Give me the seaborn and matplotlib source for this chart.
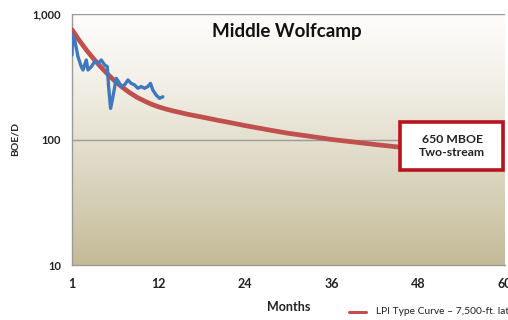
import numpy as np
import pandas as pd
import matplotlib
matplotlib.use("Agg")
import matplotlib.pyplot as plt
from matplotlib.patches import Rectangle
from matplotlib.lines import Line2D
from matplotlib.transforms import ScaledTranslation
import seaborn as sns

# ---- data ----
actual_month = [0.0, 0.09, 0.37, 0.83, 1.29, 1.52, 1.98, 2.21, 2.67, 3.13, 3.6, 4.06,
                4.52, 4.89, 5.07, 5.35, 5.67, 6.13, 6.45, 6.82, 7.28, 7.75, 8.2, 8.67,
                9.13, 9.59, 10.05, 10.5, 10.88, 11.2, 11.66, 12.13, 12.59]
actual_boed = [471, 681, 621, 457, 380, 358, 430, 358, 380, 417, 404, 430,
               393, 380, 264, 177, 219, 307, 289, 264, 272, 298, 280, 272,
               256, 264, 256, 264, 280, 248, 226, 213, 219]

type_month = [0, 1, 2, 3, 4, 5, 6, 7, 8, 9, 10, 11, 12, 13, 14, 16, 18, 20, 22, 24,
              27, 30, 33, 36, 39, 42, 45, 48]
type_boed = [750, 617, 516, 439, 378, 329, 290, 260, 236, 217, 203, 191, 182, 175,
             169, 159, 151, 143, 136, 129, 120, 112, 106, 100, 95.6, 91.2, 87.4, 83.8]

x_ticks = [0, 12, 24, 36, 48, 60]
x_tick_labels = ["1", "12", "24", "36", "48", "60"]
y_ticks = [10, 100, 1000]
y_tick_labels = ["10", "100", "1,000"]

title = "Middle Wolfcamp"
box_text = "650 MBOE\nTwo-stream"
legend_text = "LPI Type Curve \u2013 7,500-ft. lateral"

# ---- style ----
sns.set_style("white")
plt.rcParams["font.family"] = ["Lato", "DejaVu Sans"]

fig = plt.figure(figsize=(5.08, 3.20), dpi=100)
ax = fig.add_axes([72 / 508, 1 - 265 / 320, (505 - 72) / 508, (265 - 14) / 320])

# gradient background
grad = np.linspace(0, 1, 256) ** 1.25
top = np.array([0xfd, 0xfc, 0xfa]) / 255
bot = np.array([0xc3, 0xba, 0x96]) / 255
img = (top[None, :] * (1 - grad[:, None]) + bot[None, :] * grad[:, None])[:, None, :]
ax.imshow(img, extent=[0, 1, 0, 1], transform=ax.transAxes, aspect="auto", zorder=0)

df_a = pd.DataFrame({"month": actual_month, "boed": actual_boed})
df_t = pd.DataFrame({"month": type_month, "boed": type_boed})

ax.set_yscale("log")
ax.set_ylim(10, 1000)
ax.set_xlim(0, 60)

# gridlines
for v in [100, 1000]:
    ax.axhline(v, color="#9a9a9a", lw=1.0, zorder=1)

sns.lineplot(data=df_t, x="month", y="boed", ax=ax, color="#c0504d", lw=3.4,
             zorder=3, legend=False)
sns.lineplot(data=df_a, x="month", y="boed", ax=ax, color="#3f78bf", lw=2.4,
             zorder=4, legend=False)

ax.set_yticks(y_ticks)
ax.set_yticklabels(y_tick_labels)
ax.yaxis.set_minor_locator(matplotlib.ticker.NullLocator())
ax.set_xticks(x_ticks)
ax.set_xticklabels(x_tick_labels)
for lab in ax.get_xticklabels():
    lab.set_transform(lab.get_transform() + ScaledTranslation(5 / 100, 0, fig.dpi_scale_trans))

ax.tick_params(axis="both", which="major", length=5, width=1, color="#9a9a9a",
               labelsize=8, labelcolor="#222222", direction="out", pad=3)
ax.tick_params(axis="x", pad=4, labelsize=9)
for lab in ax.get_xticklabels() + ax.get_yticklabels():
    lab.set_fontweight("bold")

for s in ["top", "right"]:
    ax.spines[s].set_visible(False)
for s in ["left", "bottom"]:
    ax.spines[s].set_color("#9a9a9a")
    ax.spines[s].set_linewidth(1.0)

ax.set_xlabel("Months", fontsize=9, fontweight="bold", color="#222222", labelpad=8)
ax.set_ylabel("BOE/D", fontsize=7.5, fontweight="bold", color="#222222", labelpad=9)

ax.text((287 - 72) / 433, 1 - (32 - 14) / 251, title, transform=ax.transAxes,
        ha="center", va="center", fontsize=13.5, fontweight="bold", color="#111111",
        zorder=6)

# annotation box
rect = Rectangle(((400 - 72) / 433, (265 - 170) / 251), (503 - 400) / 433, (170 - 122) / 251,
                 transform=ax.transAxes, facecolor="white", edgecolor="#b8141c",
                 lw=2.6, zorder=7, clip_on=False)
ax.add_patch(rect)
ax.text((452 - 72) / 433, 1 - (146 - 14) / 251, box_text, transform=ax.transAxes,
        ha="center", va="center", fontsize=8.8, fontweight="bold", color="#222222",
        linespacing=1.25, zorder=8)

# legend (cut off at the figure edge like the reference)
fig.add_artist(Line2D([349 / 508, 366 / 508], [1 - 312 / 320, 1 - 312 / 320],
                      color="#c0504d", lw=2.2, transform=fig.transFigure))
fig.text(376 / 508, 1 - 312 / 320, legend_text, ha="left", va="center",
         fontsize=7.4, color="#222222")

fig.savefig("out.png", dpi=100, facecolor="white")
